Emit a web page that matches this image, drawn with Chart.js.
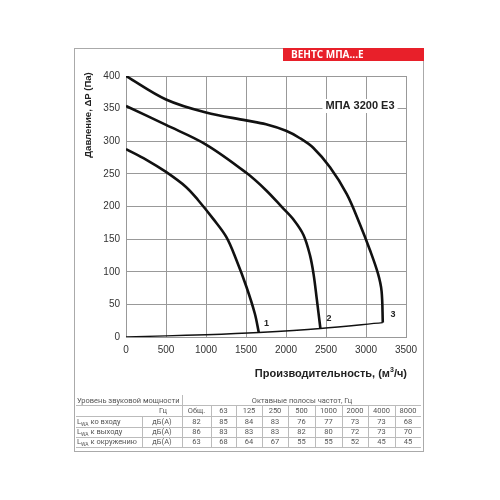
<!DOCTYPE html>
<html>
<head>
<meta charset="utf-8">
<script src="https://cdn.jsdelivr.net/npm/chart.js@4/dist/chart.umd.min.js"></script>
<style>
  body { margin: 0; background: #fff; }
  canvas { display: block; }
</style>
</head>
<body>
<canvas id="c" width="500" height="500"></canvas>
<script>
// fan curves (flow m3/h, pressure Pa)
const flow1 = [0, 250, 500, 750, 900, 1090, 1255, 1380, 1505, 1610, 1660];
const pres1 = [288, 272, 253, 230, 210, 181, 153, 118, 77, 36, 7];
const flow2 = [0, 500, 1000, 1500, 1750, 1950, 2100, 2220, 2300, 2345, 2385, 2430];
const pres2 = [354, 325, 295, 252, 225, 199, 179, 156, 125, 96, 58, 13];
const flow3 = [0, 500, 1000, 1500, 1750, 2000, 2170, 2340, 2550, 2760, 2920, 3050, 3150, 3195, 3210];
const pres3 = [400, 364, 344, 332, 326, 316, 305, 290, 260, 219, 174, 133, 97, 70, 22];
// network curve
const flowNet = [0, 500, 1000, 1660, 2430, 3210];
const presNet = [0, 1.8, 3.5, 7, 13, 22];

const curveNames = ['1', '2', '3'];
const curveNameFlow = [1755, 2538, 3338];
const curveNamePres = [21, 29, 34];

// sound table
const bands = ['Общ.', '63', '125', '250', '500', '1000', '2000', '4000', '8000'];
const rowNames = [' ко входу', ' к выходу', ' к окружению'];
const lwaInlet = [82, 85, 84, 83, 76, 77, 73, 73, 68];
const lwaOutlet = [86, 83, 83, 83, 82, 80, 72, 73, 70];
const lwaAround = [63, 68, 64, 67, 55, 55, 52, 45, 45];

function pts(xs, ys) {
  return xs.map((x, i) => ({ x: x, y: ys[i] }));
}

function curve(xs, ys, w) {
  return {
    data: pts(xs, ys),
    showLine: true,
    borderColor: '#111',
    borderWidth: w,
    pointRadius: 0,
    fill: false,
    tension: 0.35
  };
}

const arial = 'Arial, "Liberation Sans", sans-serif';
const small = 'Roboto, "Noto Sans", sans-serif';

const extras = {
  id: 'extras',
  beforeDraw(chart) {
    const ctx = chart.ctx;
    ctx.save();
    ctx.fillStyle = '#fff';
    ctx.fillRect(0, 0, 500, 500);
    ctx.restore();
  },
  afterDraw(chart) {
    const ctx = chart.ctx;
    const xs = chart.scales.x, ys = chart.scales.y;
    ctx.save();

    // outer frame + red header
    ctx.strokeStyle = '#aaa';
    ctx.lineWidth = 1;
    ctx.strokeRect(74.5, 48.5, 349, 403);
    ctx.fillStyle = '#e8202a';
    ctx.fillRect(283, 48, 141, 13);
    ctx.fillStyle = '#fff';
    ctx.font = 'bold 10px "Open Sans", sans-serif';
    ctx.textBaseline = 'middle';
    ctx.textAlign = 'left';
    ctx.fillText('ВЕНТС МПА...Е', 291, 55);

    // axis titles
    ctx.fillStyle = '#222';
    ctx.font = 'bold 9.5px ' + arial;
    ctx.save();
    ctx.translate(88, 115);
    ctx.rotate(-Math.PI / 2);
    ctx.textAlign = 'center';
    ctx.fillText('Давление, ΔP (Па)', 0, 0);
    ctx.restore();

    ctx.font = 'bold 11px ' + arial;
    ctx.textAlign = 'right';
    ctx.textBaseline = 'middle';
    const t1 = 'Производительность, (м';
    const t2 = '/ч)';
    const w2 = ctx.measureText(t2).width;
    ctx.fillText(t2, 407, 374);
    ctx.font = 'bold 7px ' + arial;
    const w3 = ctx.measureText('3').width;
    ctx.fillText('3', 407 - w2, 370);
    ctx.font = 'bold 11px ' + arial;
    ctx.fillText(t1, 407 - w2 - w3, 374);

    // model label
    ctx.font = 'bold 11px ' + arial;
    ctx.textAlign = 'center';
    const mx = xs.getPixelForValue(2925), my = ys.getPixelForValue(354);
    const mw = ctx.measureText('МПА 3200 Е3').width;
    ctx.fillStyle = '#fff';
    ctx.fillRect(mx - mw / 2 - 3, my - 7, mw + 6, 14);
    ctx.fillStyle = '#222';
    ctx.fillText('МПА 3200 Е3', mx, my);

    // curve numbers
    ctx.font = 'bold 9px ' + arial;
    curveNames.forEach((n, i) => {
      ctx.fillText(n, xs.getPixelForValue(curveNameFlow[i]), ys.getPixelForValue(curveNamePres[i]));
    });

    // table
    const bounds = [182, 211, 236, 262, 288, 315, 342, 368, 395, 421];
    ctx.strokeStyle = '#bbb';
    ctx.lineWidth = 1;
    [405, 416, 427, 437, 447].forEach(y => {
      ctx.beginPath();
      ctx.moveTo(76, y + 0.5);
      ctx.lineTo(421, y + 0.5);
      ctx.stroke();
    });
    ctx.beginPath();
    ctx.moveTo(182.5, 395); ctx.lineTo(182.5, 447);
    ctx.moveTo(142.5, 416); ctx.lineTo(142.5, 447);
    bounds.slice(1, -1).forEach(b => {
      ctx.moveTo(b + 0.5, 405); ctx.lineTo(b + 0.5, 447);
    });
    ctx.stroke();

    ctx.fillStyle = '#555';
    ctx.font = '7.5px ' + small;
    ctx.textBaseline = 'alphabetic';
    ctx.textAlign = 'left';
    ctx.fillText('Уровень звуковой мощности', 77, 403);
    ctx.textAlign = 'center';
    ctx.fillText('Октавные полосы частот, Гц', 302, 403);
    ctx.fillText('Гц', 163, 413);
    bands.forEach((b, i) => {
      ctx.fillText(b, (bounds[i] + bounds[i + 1]) / 2, 413);
    });
    const rows = [lwaInlet, lwaOutlet, lwaAround];
    const base = [424, 434, 444];
    rows.forEach((r, k) => {
      const y = base[k];
      ctx.textAlign = 'left';
      ctx.font = '7.5px ' + small;
      ctx.fillText('L', 77, y);
      const lw = ctx.measureText('L').width;
      ctx.font = '5px ' + small;
      ctx.fillText('WA', 77 + lw, y + 2);
      const sw = ctx.measureText('WA').width;
      ctx.font = '7.5px ' + small;
      ctx.fillText(rowNames[k], 77 + lw + sw, y);
      ctx.textAlign = 'center';
      ctx.fillText('дБ(А)', 162, y);
      r.forEach((v, i) => {
        ctx.fillText(String(v), (bounds[i] + bounds[i + 1]) / 2, y);
      });
    });

    ctx.restore();
  }
};

new Chart(document.getElementById('c').getContext('2d'), {
  type: 'scatter',
  data: {
    datasets: [
      curve(flow1, pres1, 2.6),
      curve(flow2, pres2, 2.6),
      curve(flow3, pres3, 2.6),
      curve(flowNet, presNet, 1.4)
    ]
  },
  options: {
    responsive: false,
    devicePixelRatio: 1,
    animation: false,
    layout: { padding: { left: 0, top: 76, right: 94, bottom: 138 } },
    plugins: { legend: { display: false }, tooltip: { enabled: false } },
    scales: {
      x: {
        type: 'linear',
        min: 0,
        max: 3500,
        afterFit(s) { s.height = 25; },
        ticks: { stepSize: 500, callback: v => String(v), color: '#333', font: { family: arial, size: 10 }, padding: 7, maxRotation: 0 },
        grid: { color: '#999', drawTicks: false },
        border: { color: '#999' }
      },
      y: {
        min: 0,
        max: 400,
        afterFit(s) { s.width = 126; },
        ticks: { stepSize: 50, callback: v => String(v), color: '#333', font: { family: arial, size: 10 }, padding: 6 },
        grid: { color: '#999', drawTicks: false },
        border: { color: '#999' }
      }
    }
  },
  plugins: [extras]
});
</script>
</body>
</html>
